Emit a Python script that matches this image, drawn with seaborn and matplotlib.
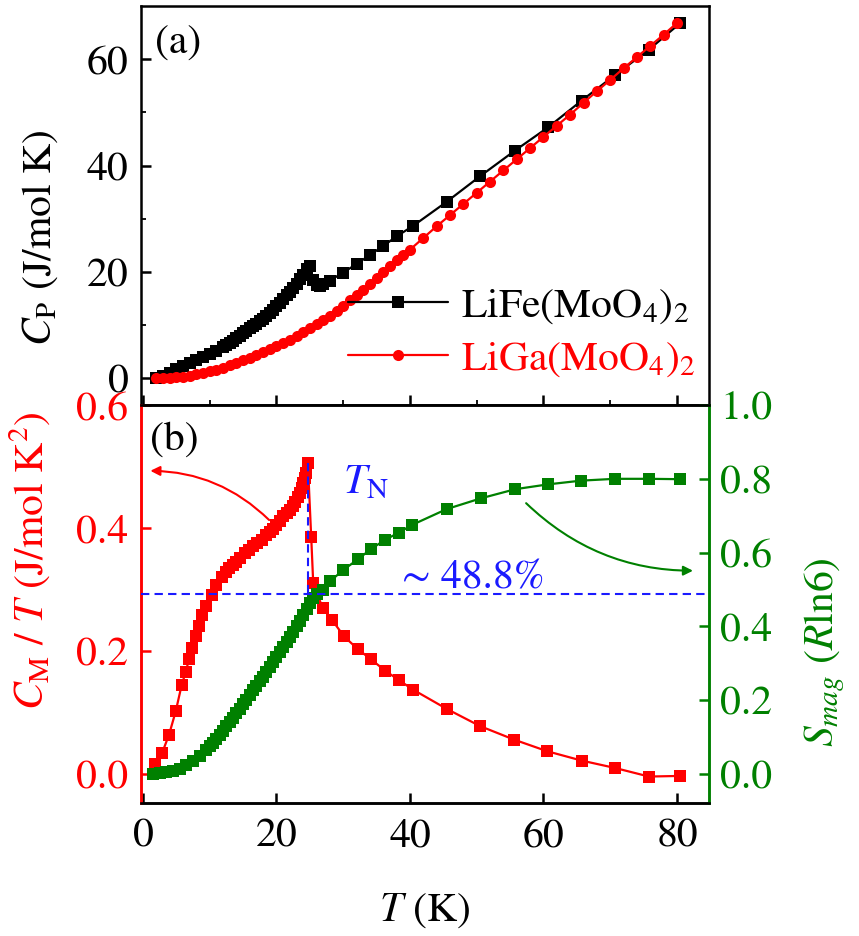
import matplotlib
matplotlib.use("Agg")
import matplotlib.pyplot as plt
import seaborn as sns
import pandas as pd

# ---------------- data: panel (a) ----------------
T_fe = [2, 3, 4, 5, 6, 7, 8, 9, 10, 11, 12, 12.5, 13, 13.5, 14, 14.5, 15, 15.5, 16, 16.5, 17,
        17.5, 18, 18.5, 19, 19.5, 20, 20.5, 21, 21.5, 22, 22.5, 23, 23.5, 24,
        24.5, 25, 25.5, 26, 26.5, 27, 28, 30, 32, 34, 36, 38, 40.5, 45.5, 50.5, 55.7,
        60.7, 65.7, 70.7, 75.8, 80.5]
cp_fe = [0.1, 0.5, 1.0, 1.7, 2.3, 2.9, 3.5, 4.1, 4.6, 5.2, 5.9, 6.2, 6.6, 7.1, 7.6, 8.0, 8.5,
         8.9, 9.4, 9.8, 10.3, 10.7, 11.2, 11.7, 12.3, 12.9, 13.6, 14.2, 14.9, 15.6, 16.3,
         17.0, 17.8, 18.6, 19.4, 20.5, 21.2, 18.5, 17.5, 17.4, 17.7, 18.4,
         19.9, 21.5, 23.2, 24.9, 26.7, 28.7, 33.2, 38.0, 42.8, 47.2, 52.2, 57.0, 61.8, 66.8]

T_ga = [2, 3, 4, 5, 6, 7, 8, 9, 10, 11, 12, 13, 14, 15, 16, 17, 18, 19, 20, 21, 22, 23, 24,
        25, 26, 27, 28, 29, 30, 31, 32, 33, 34, 35, 36, 37, 38, 39, 40, 42, 44, 46, 48, 50,
        52, 54, 56, 58, 60, 62, 64, 66, 68, 70, 72, 74, 76, 78, 80]
cp_ga = [0.0, 0.05, 0.1, 0.2, 0.35, 0.5, 0.75, 1.0, 1.3, 1.65, 2.0, 2.5, 2.9, 3.4, 3.9, 4.4,
         4.9, 5.5, 6.1, 6.7, 7.3, 8.0, 8.7, 9.4, 10.2, 11.0, 11.8, 12.7, 13.7, 14.7, 15.7,
         16.7, 17.8, 18.9, 20.0, 21.1, 22.2, 23.2, 24.2, 26.4, 28.6, 30.7, 32.8, 34.9, 37.0,
         39.1, 41.2, 43.3, 45.4, 47.5, 49.6, 51.8, 54.0, 56.1, 58.3, 60.4, 62.5, 64.6, 66.8]

# ---------------- data: panel (b) ----------------
T_cm = [1.8, 2.85, 3.9, 4.9, 5.8, 6.4, 6.9, 7.4, 7.9, 8.4, 8.9, 9.5, 10.3, 11.0, 11.8, 12.4,
        12.9, 13.5, 14.0, 14.6, 15.3, 15.9, 16.5, 17.1, 17.8, 18.4, 19.0, 19.5, 20.0, 20.5,
        21.0, 21.5, 22.0, 22.4, 22.8, 23.2, 23.5, 23.8, 24.0, 24.2, 24.4, 24.7, 25.2,
        25.5, 26.9, 28.3, 30.1, 32.2, 34.1, 36.3, 38.3, 40.5, 45.5, 50.5, 55.6, 60.6, 65.7,
        70.7, 75.8, 80.4]
cm_over_t = [0.016, 0.034, 0.064, 0.102, 0.145, 0.166, 0.187, 0.205, 0.224, 0.241, 0.258,
             0.274, 0.291, 0.308, 0.321, 0.329, 0.335, 0.340, 0.345, 0.352, 0.359, 0.365,
             0.370, 0.375, 0.381, 0.388, 0.394, 0.399, 0.405, 0.412, 0.419, 0.424, 0.429,
             0.436, 0.443, 0.450, 0.457, 0.465, 0.473, 0.481, 0.489, 0.505, 0.386, 0.311,
             0.270, 0.251, 0.224, 0.203, 0.187, 0.168, 0.153, 0.137, 0.106, 0.078, 0.056,
             0.037, 0.022, 0.010, -0.004, -0.003]

T_s = [1.5, 2.5, 3.5, 4.5, 5.5, 6.5, 7.5, 8.5, 9.5, 10.0, 10.5, 11.0, 11.5, 12.0, 12.5, 13.0,
       13.5, 14.0, 14.5, 15.0, 15.5, 16.0, 16.5, 17.0, 17.5, 18.0, 18.5, 19.0, 19.5, 20.0,
       20.5, 21.0, 21.5, 22.0, 22.5, 23.0, 23.5, 24.0, 24.5, 25.0, 25.5, 26.0, 26.9, 28.0,
       30.0, 32.2, 34.1, 36.2, 38.3, 40.3, 45.5, 50.6, 55.8, 60.7, 65.6, 70.7, 75.8, 80.5]
s_mag = [0.0, 0.002, 0.005, 0.009, 0.015, 0.024, 0.035, 0.048, 0.065, 0.075, 0.085, 0.096,
         0.107, 0.118, 0.130, 0.141, 0.153, 0.165, 0.177, 0.190, 0.202, 0.214, 0.227, 0.240,
         0.252, 0.264, 0.277, 0.290, 0.303, 0.316, 0.330, 0.343, 0.357, 0.371, 0.385, 0.400,
         0.415, 0.430, 0.447, 0.463, 0.477, 0.488, 0.500, 0.522, 0.553, 0.582, 0.609, 0.634,
         0.654, 0.675, 0.718, 0.747, 0.772, 0.785, 0.795, 0.800, 0.800, 0.799]

x_ticks = [0, 20, 40, 60, 80]
x_minor = [10, 30, 50, 70]
cp_ticks = [0, 20, 40, 60]
cp_minor = [10, 30, 50]
cm_ticks = [0.0, 0.2, 0.4, 0.6]
s_ticks = [0.0, 0.2, 0.4, 0.6, 0.8, 1.0]
TN = 24.7            # K
TN_peak = 0.505      # C_M/T at T_N
S_frac = 0.488       # S_mag fraction at T_N

label_fe = r"LiFe(MoO$_4$)$_2$"
label_ga = r"LiGa(MoO$_4$)$_2$"

# ---------------- style ----------------
sns.set_style("ticks")
plt.rcParams["font.family"] = ["STIXGeneral", "Liberation Serif", "DejaVu Serif"]
plt.rcParams["mathtext.fontset"] = "stix"
plt.rcParams["axes.linewidth"] = 1.8
plt.rcParams["axes.edgecolor"] = "black"
plt.rcParams["xtick.color"] = "black"
plt.rcParams["ytick.color"] = "black"
plt.rcParams["text.color"] = "black"
plt.rcParams["axes.labelcolor"] = "black"
FS = 30
MS = 8.4

RED = "#ff0000"
GREEN = "#008000"
BLUE = "#1a1aff"

W, H = 859, 936
fig = plt.figure(figsize=(W / 100, H / 100), dpi=100)
L, R = 141, 709
A_TOP, MID, B_BOT = 6, 405, 803
ax1 = fig.add_axes([L / W, 1 - MID / H, (R - L) / W, (MID - A_TOP) / H])
ax2 = fig.add_axes([L / W, 1 - B_BOT / H, (R - L) / W, (B_BOT - MID) / H])
ax3 = ax2.twinx()

XLIM = (-0.3, 84.8)

# ---------------- panel (a) ----------------
df_fe = pd.DataFrame({"T": T_fe, "Cp": cp_fe})
df_ga = pd.DataFrame({"T": T_ga, "Cp": cp_ga})
sns.lineplot(data=df_fe, x="T", y="Cp", ax=ax1, color="black", marker="s", markersize=MS,
             markeredgewidth=0, lw=1.6, sort=False, label=label_fe)
sns.lineplot(data=df_ga, x="T", y="Cp", ax=ax1, color=RED, marker="o", markersize=8.0,
             markeredgewidth=0, lw=1.6, sort=False, label=label_ga)
ax1.set_xlim(*XLIM)
ax1.set_ylim(-5, 70)
ax1.set_xticks(x_ticks)
ax1.set_xticks(x_minor, minor=True)
ax1.set_yticks(cp_ticks)
ax1.set_yticks(cp_minor, minor=True)
ax1.tick_params(axis="x", which="both", direction="in", bottom=True, top=False, labelbottom=False)
ax1.tick_params(axis="y", which="both", direction="in", left=True, right=False)
ax1.tick_params(which="major", length=7, width=1.8, labelsize=FS)
ax1.tick_params(which="minor", length=3.5, width=1.3)
ax1.tick_params(axis="y", pad=9)
ax1.set_xlabel("")
ax1.set_ylabel(r"$C_{\rm P}$ (J/mol K)", fontsize=FS)
ax1.yaxis.set_label_coords(-0.142, 0.42)
ax1.text(0.065, 0.905, "(a)", transform=ax1.transAxes, fontsize=FS, ha="center", va="center")
leg = ax1.legend(loc="center left", bbox_to_anchor=(0.365, 0.18), frameon=False, fontsize=FS,
                 handlelength=2.4, handletextpad=0.3, labelspacing=0.35, borderpad=0,
                 borderaxespad=0, numpoints=1, labelcolor="linecolor")

# ---------------- panel (b) ----------------
df_cm = pd.DataFrame({"T": T_cm, "v": cm_over_t})
df_s = pd.DataFrame({"T": T_s, "v": s_mag})
sns.lineplot(data=df_cm, x="T", y="v", ax=ax2, color=RED, marker="s", markersize=MS,
             markeredgewidth=0, lw=1.6, sort=False)
sns.lineplot(data=df_s, x="T", y="v", ax=ax3, color=GREEN, marker="s", markersize=MS,
             markeredgewidth=0, lw=1.6, sort=False)

ax2.set_xlim(*XLIM)
ax2.set_ylim(-0.047, 0.6)
ax3.set_ylim(-0.047 / 0.6, 1.0)
ax2.set_xticks(x_ticks)
ax2.set_xticks(x_minor, minor=True)
ax2.set_yticks(cm_ticks)
ax2.set_yticklabels([f"{v:.1f}" for v in cm_ticks])
ax3.set_yticks(s_ticks)
ax3.set_yticklabels([f"{v:.1f}" for v in s_ticks])

ax2.tick_params(axis="x", which="both", direction="in", bottom=True, top=False,
                labelsize=FS, pad=11, colors="black")
ax2.tick_params(axis="x", which="major", length=7, width=1.8)
ax2.tick_params(axis="x", which="minor", length=0)
ax2.tick_params(axis="y", which="major", direction="in", length=7, width=1.8, colors=RED,
                labelsize=FS, pad=9, left=True, right=False)
ax3.tick_params(axis="y", which="major", direction="in", length=7, width=1.8, colors=GREEN,
                labelsize=FS, pad=8, right=True, left=False)

for ax in (ax1, ax2, ax3):
    for sp in ax.spines.values():
        sp.set_linewidth(1.8)
        sp.set_color("black")
ax2.spines["left"].set_color(RED)
ax3.spines["left"].set_color(RED)
ax2.spines["right"].set_color(GREEN)
ax3.spines["right"].set_color(GREEN)

ax2.set_xlabel(r"$T$ (K)", fontsize=FS)
ax2.xaxis.set_label_coords(0.5, -0.222)
ax2.set_ylabel(r"$C_{\rm M}$ / $T$ (J/mol K$^2$)", fontsize=FS, color=RED)
ax2.yaxis.set_label_coords(-0.155, 0.61)
ax3.set_ylabel(r"$S_{mag}$ ($R$ln6)", fontsize=FS, color=GREEN)
ax3.yaxis.set_label_coords(1.165, 0.38)

# T_N guide lines (in S_mag units)
ax3.plot([TN, TN], [TN_peak / 0.6, S_frac], ls=(0, (4, 2.5)), color=BLUE, lw=1.5, zorder=5)
ax3.axhline(S_frac, ls=(0, (4, 2.5)), color=BLUE, lw=1.5, zorder=5)

ax2.text(0.059, 0.912, "(b)", transform=ax2.transAxes, fontsize=FS, ha="center", va="center")
ax3.text(30.0, 0.761, r"$T_{\rm N}$", color=BLUE, fontsize=FS, ha="left", va="baseline")
ax3.text(38.8, 0.504, "\u223c 48.8%", color=BLUE, fontsize=FS, ha="left", va="baseline")

# arrows
ax2.annotate("", xy=(1.1, 0.493), xytext=(18.9, 0.413),
             arrowprops=dict(arrowstyle="-|>", color=RED, lw=1.5, mutation_scale=14,
                             connectionstyle="arc3,rad=0.2", shrinkA=0, shrinkB=0))
ax3.annotate("", xy=(82.4, 0.551), xytext=(57.4, 0.734),
             arrowprops=dict(arrowstyle="-|>", color=GREEN, lw=1.5, mutation_scale=14,
                             connectionstyle="arc3,rad=0.2", shrinkA=0, shrinkB=0))

fig.savefig("out.png", dpi=100, facecolor="white")
